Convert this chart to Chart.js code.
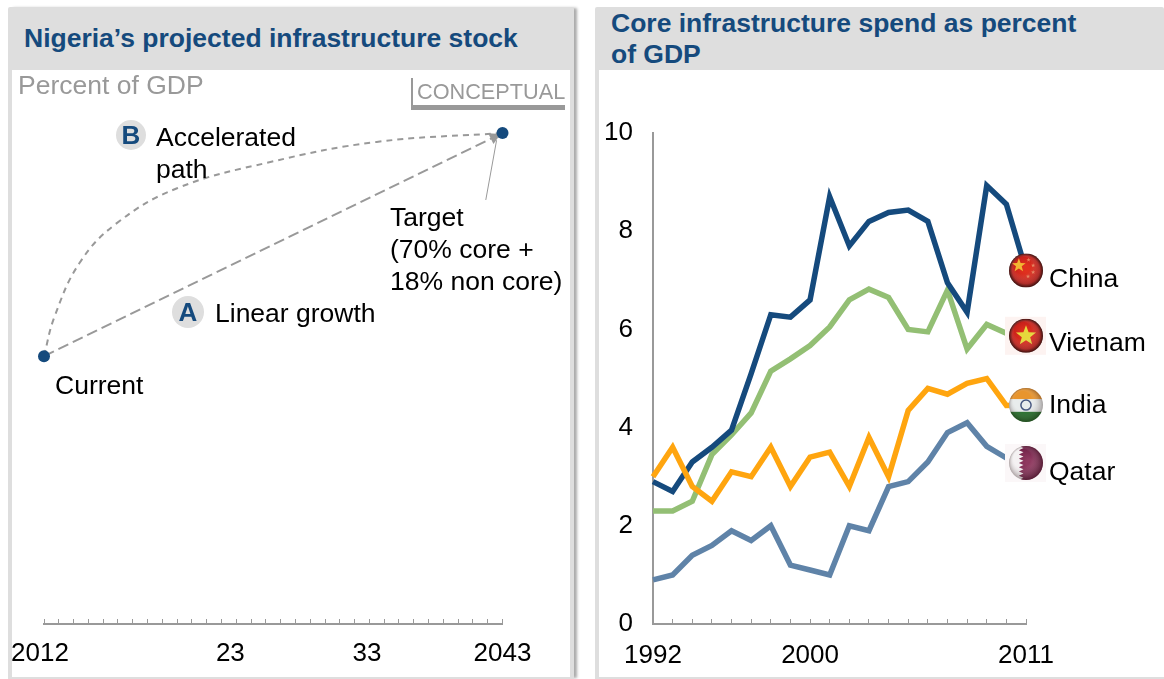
<!DOCTYPE html>
<html><head><meta charset="utf-8">
<script src="https://cdn.jsdelivr.net/npm/chart.js@4"></script>
<style>
html,body{margin:0;padding:0;background:#fff;width:1164px;height:679px;overflow:hidden;font-family:"Liberation Sans",Arial,sans-serif;}
.panel{position:absolute;top:7px;background:#dedede;border-radius:2px 2px 0 0;}
#p1{left:8px;width:566px;height:672px;box-shadow:4px 0 3px -1px #aaa;}
#p2{left:595px;width:569px;height:672px;}
.white{position:absolute;background:#fff;}
#w1{left:12px;top:70px;width:558px;height:607px;}
#w2{left:599px;top:70px;width:565px;height:607px;}
.t{position:absolute;font-size:26.5px;line-height:30px;color:#000;white-space:nowrap;}
.title{position:absolute;font-weight:bold;font-size:26.5px;line-height:31px;color:#154a7d;white-space:nowrap;}
.grey{color:#999;}
.badge{position:absolute;border-radius:50%;background:#dedede;color:#154a7d;font-weight:bold;font-size:26px;text-align:center;}
canvas{position:absolute;}
#c1wrap,#c2wrap{position:absolute;top:70px;height:607px;}
#c1wrap{left:0;width:590px;}
#c2wrap{left:600px;width:564px;}
.bar{position:absolute;background:#999;}
</style></head><body>
<div class="panel" id="p1"></div><div class="panel" id="p2"></div>
<div class="white" id="w1"></div><div class="white" id="w2"></div>
<div id="c1wrap"><canvas id="c1"></canvas></div>
<div id="c2wrap"><canvas id="c2"></canvas></div>
<div class="title" style="left:24px;top:23px">Nigeria’s projected infrastructure stock</div>
<div class="title" style="left:611px;top:8px">Core infrastructure spend as percent<br>of GDP</div>
<div class="t grey" style="left:18px;top:70px">Percent of GDP</div>
<div class="bar" style="left:411px;top:78px;width:2px;height:30px"></div>
<div class="bar" style="left:411px;top:105px;width:154px;height:5px"></div>
<div class="t grey" style="left:417px;top:77px;font-size:21.7px">CONCEPTUAL</div>
<div class="badge" style="left:116px;top:120px;width:30px;height:30px;line-height:31px">B</div>
<div class="badge" style="left:172px;top:296px;width:32px;height:32px;line-height:33px">A</div>
<div class="t" style="left:156px;top:121px;line-height:32px">Accelerated<br>path</div>
<div class="t" style="left:215px;top:298px">Linear growth</div>
<div class="t" style="left:55px;top:370px">Current</div>
<div class="t" style="left:390px;top:201px;line-height:32px">Target<br>(70% core +<br>18% non core)</div>
<script>
const FONT = '"Liberation Sans", Arial, sans-serif';
// ---- left chart data
const stockYears = [2012, 2043];
const linearValues = [48, 88];
const dotValues = [48, 88];
const accelYears = [2012, 2012.7, 2014.4, 2016.9, 2021, 2027.3, 2034.5, 2043];
const accelValues = [48, 55, 64.7, 71.8, 78.1, 82.8, 86.4, 88];
const leaderYears = [2042.6, 2041.87];
const leaderValues = [86.7, 76];
const stockTickYears = [2011.73, 2024.6, 2033.84, 2043];
const stockTickLabels = ['2012', '23', '33', '2043'];
// ---- right chart data
const years = ['1992','1993','1994','1995','1996','1997','1998','1999','2000','2001','2002','2003','2004','2005','2006','2007','2008','2009','2010','2011'];
const shownYears = ['1992','2000','2011'];
const china   = [2.9,2.7,3.3,3.6,3.95,5.1,6.3,6.25,6.6,8.7,7.7,8.2,8.38,8.43,8.2,6.95,6.35,8.93,8.55,7.2];
const vietnam = [2.3,2.3,2.5,3.45,3.85,4.3,5.15,5.4,5.67,6.05,6.6,6.82,6.65,6.0,5.95,6.8,5.6,6.1,5.92,5.87];
const india   = [3.0,3.6,2.8,2.5,3.1,3.0,3.6,2.8,3.4,3.5,2.8,3.8,3.0,4.35,4.8,4.68,4.9,5.0,4.45,4.46];
const qatar   = [0.9,1.0,1.4,1.6,1.9,1.7,2.0,1.2,1.1,1.0,2.0,1.9,2.8,2.9,3.3,3.9,4.1,3.62,3.38,3.28];
const countryNames = ['China','Vietnam','India','Qatar'];
const countryColors = ['#154a7d','#93bf74','#ffa50f','#5f83a8'];
const countryData = [china, vietnam, india, qatar];
const labelDy = [9, 8, 1, 10];

const pairs = (xs, ys) => xs.map((x, i) => ({x, y: ys[i]}));

const arrowPlugin = {
  id: 'arrow',
  beforeDatasetsDraw(chart) {
    const ctx = chart.ctx, X = chart.scales.x, Y = chart.scales.y;
    const x0 = X.getPixelForValue(stockYears[0]), y0 = Y.getPixelForValue(linearValues[0]);
    const x1 = X.getPixelForValue(stockYears[1]), y1 = Y.getPixelForValue(linearValues[1]);
    const a = Math.atan2(y1 - y0, x1 - x0);
    ctx.save();
    ctx.translate(x1, y1); ctx.rotate(a);
    ctx.fillStyle = '#999';
    ctx.beginPath(); ctx.moveTo(-2, 0); ctx.lineTo(-13, -6); ctx.lineTo(-13, 6); ctx.closePath(); ctx.fill();
    ctx.restore();
  }
};

new Chart(document.getElementById('c1'), {
  type: 'line',
  data: { datasets: [
    { data: pairs(stockYears, dotValues), showLine: false, pointRadius: 6, pointHoverRadius: 6, pointBackgroundColor: '#154a7d', pointBorderWidth: 0, order: 0, clip: false },
    { data: pairs(stockYears, linearValues), borderColor: '#999', borderWidth: 2, borderDash: [11, 5], pointRadius: 0, order: 2, clip: false },
    { data: pairs(accelYears, accelValues), borderColor: '#999', borderWidth: 2, borderDash: [6, 5], tension: 0.4, pointRadius: 0, order: 2, clip: false },
    { data: pairs(leaderYears, leaderValues), borderColor: '#999', borderWidth: 1, pointRadius: 0, order: 2, clip: false }
  ]},
  plugins: [arrowPlugin],
  options: {
    responsive: true, maintainAspectRatio: false, animation: false, events: [],
    layout: { padding: { left: 44, right: 87.5, top: 63, bottom: 0 } },
    plugins: { legend: { display: false }, tooltip: { enabled: false } },
    scales: {
      x: {
        type: 'linear', min: stockYears[0], max: stockYears[1],
        afterBuildTicks(axis) {
          const t = [];
          for (let y = stockYears[0]; y <= stockYears[1]; y++) t.push(y);
          stockTickYears.forEach(v => { if (!t.includes(v)) t.push(v); });
          t.sort((a, b) => a - b);
          axis.ticks = t.map(value => ({ value }));
        },
        afterFit(s) { s.height = 53; s.paddingLeft = 0; s.paddingRight = 0; },
        border: { color: '#999', width: 2 },
        grid: { drawOnChartArea: false, tickLength: -5, tickWidth: 1, tickColor: c => (c.tick && Number.isInteger(c.tick.value)) ? '#999' : 'rgba(0,0,0,0)' },
        ticks: {
          autoSkip: false, maxRotation: 0, minRotation: 0, padding: 19, color: '#000',
          font: { family: FONT, size: 26 },
          callback: v => { const i = stockTickYears.indexOf(v); return i < 0 ? '' : stockTickLabels[i]; }
        }
      },
      y: { display: false, min: 0, max: 88 }
    }
  }
});

function flagFill(ctx, name, r) {
  const clipCircle = () => { ctx.beginPath(); ctx.arc(0, 0, r, 0, Math.PI * 2); ctx.clip(); };
  const star = (cx, cy, R, col) => {
    ctx.fillStyle = col; ctx.beginPath();
    for (let i = 0; i < 10; i++) {
      const rr = i % 2 ? R * 0.42 : R, a = -Math.PI / 2 + i * Math.PI / 5;
      ctx.lineTo(cx + rr * Math.cos(a), cy + rr * Math.sin(a));
    }
    ctx.closePath(); ctx.fill();
  };
  clipCircle();
  if (name === 'China' || name === 'Vietnam') {
    const g = ctx.createRadialGradient(0, -r * 0.1, r * 0.2, 0, 0, r);
    g.addColorStop(0, '#e0301e'); g.addColorStop(0.75, '#c8201a'); g.addColorStop(1, '#4a0d0a');
    ctx.fillStyle = g; ctx.fillRect(-r, -r, 2 * r, 2 * r);
    if (name === 'China') {
      star(-r * 0.42, -r * 0.3, r * 0.42, '#f2b632');
      [[0.15,-0.62],[0.42,-0.3],[0.42,0.1],[0.12,0.35]].forEach(p => star(p[0] * r, p[1] * r, r * 0.13, '#e8805a'));
    } else {
      star(0, 0, r * 0.62, '#e6d83c');
    }
  } else if (name === 'India') {
    ctx.fillStyle = '#e8952e'; ctx.fillRect(-r, -r, 2 * r, 0.7 * r);
    ctx.fillStyle = '#e8ecec'; ctx.fillRect(-r, -0.35 * r, 2 * r, 0.75 * r);
    ctx.fillStyle = '#1f6b25'; ctx.fillRect(-r, 0.4 * r, 2 * r, 0.7 * r);
    ctx.strokeStyle = '#44557e'; ctx.lineWidth = 1.5;
    ctx.beginPath(); ctx.arc(0, 0, r * 0.3, 0, Math.PI * 2); ctx.stroke();
  } else {
    ctx.fillStyle = '#f4f1f2'; ctx.fillRect(-r, -r, 2 * r, 2 * r);
    const g = ctx.createRadialGradient(r * 0.2, 0, r * 0.2, 0, 0, r * 1.05);
    g.addColorStop(0, '#8f3a60'); g.addColorStop(1, '#6a1c42');
    ctx.fillStyle = g;
    ctx.beginPath(); ctx.moveTo(-r * 0.42, -r);
    for (let i = 0; i < 8; i++) {
      const y = -r + i * r / 4;
      ctx.lineTo(-r * 0.15, y + r / 8); ctx.lineTo(-r * 0.42, y + r / 4);
    }
    ctx.lineTo(r, r); ctx.lineTo(r, -r); ctx.closePath(); ctx.fill();
  }
  const s = ctx.createRadialGradient(-r * 0.2, -r * 0.3, r * 0.5, 0, 0, r);
  s.addColorStop(0, 'rgba(255,255,255,0)'); s.addColorStop(1, 'rgba(40,20,20,0.35)');
  ctx.fillStyle = s; ctx.fillRect(-r, -r, 2 * r, 2 * r);
}

const flagPlugin = {
  id: 'flags',
  afterDatasetsDraw(chart) {
    const ctx = chart.ctx;
    chart.data.datasets.forEach((ds, i) => {
      const meta = chart.getDatasetMeta(i);
      const p = meta.data[meta.data.length - 1];
      ctx.save();
      ctx.translate(p.x, p.y);
      if (ds.label === 'Vietnam' || ds.label === 'Qatar') {
        ctx.fillStyle = ds.label === 'Vietnam' ? '#fdf3f1' : '#fbf7f8';
        ctx.fillRect(-21, -19, 41, 38);
      }
      ctx.save();
      flagFill(ctx, ds.label, 17);
      ctx.restore();
      ctx.restore();
      ctx.save();
      ctx.fillStyle = '#000'; ctx.font = '26.5px ' + FONT;
      ctx.textBaseline = 'middle'; ctx.textAlign = 'left';
      ctx.fillText(ds.label, p.x + 23, p.y + labelDy[i]);
      ctx.restore();
    });
  }
};

new Chart(document.getElementById('c2'), {
  type: 'line',
  data: {
    labels: years,
    datasets: countryNames.map((n, i) => ({
      label: n, data: countryData[i], borderColor: countryColors[i], borderWidth: 5.5,
      tension: 0, pointRadius: 0, borderJoinStyle: 'miter', borderCapStyle: 'butt', clip: false,
      order: i === 0 ? 1 : i === 2 ? 0 : i === 1 ? 2 : 3
    }))
  },
  plugins: [flagPlugin],
  options: {
    responsive: true, maintainAspectRatio: false, animation: false, events: [],
    layout: { padding: { left: 0, right: 138, top: 63, bottom: 0 } },
    plugins: { legend: { display: false }, tooltip: { enabled: false } },
    scales: {
      x: {
        type: 'category', offset: false,
        afterFit(s) { s.height = 53; },
        border: { color: '#999', width: 2 },
        grid: { drawOnChartArea: false, tickLength: -5, tickWidth: 1, tickColor: '#999' },
        ticks: {
          autoSkip: false, maxRotation: 0, minRotation: 0, padding: 21, color: '#000',
          font: { family: FONT, size: 26 },
          callback(v) { const l = this.getLabelForValue(v); return shownYears.includes(l) ? l : ''; }
        }
      },
      y: {
        min: 0, max: 10, afterFit(s) { s.width = 53; },
        border: { color: '#999', width: 2 },
        grid: { display: true, drawOnChartArea: false, drawTicks: false },
        ticks: { stepSize: 2, padding: 20, color: '#000', font: { family: FONT, size: 26 } }
      }
    }
  }
});
</script>
</body></html>
